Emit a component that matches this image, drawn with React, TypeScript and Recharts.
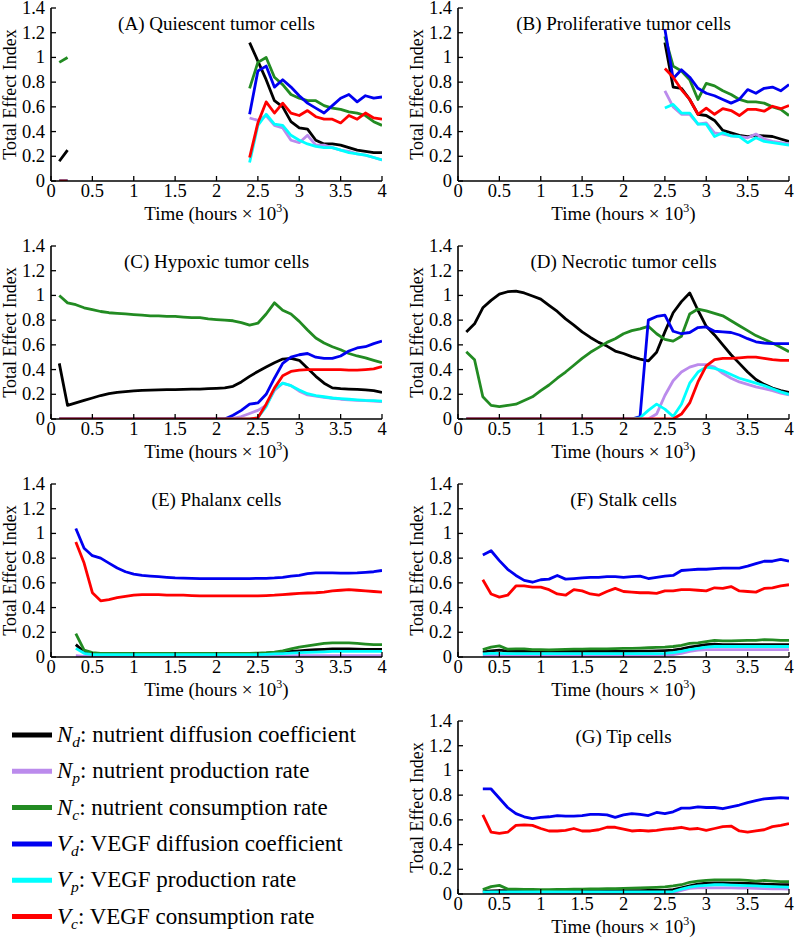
import React from 'react';
import { LineChart, Line, XAxis, YAxis, Label } from 'recharts';

const _ = null;

const TIME = [
  0.1, 0.2, 0.3, 0.4, 0.5, 0.6, 0.7, 0.8, 0.9, 1.0,
  1.1, 1.2, 1.3, 1.4, 1.5, 1.6, 1.7, 1.8, 1.9, 2.0,
  2.1, 2.2, 2.3, 2.4, 2.5, 2.6, 2.7, 2.8, 2.9, 3.0,
  3.1, 3.2, 3.3, 3.4, 3.5, 3.6, 3.7, 3.8, 3.9, 4.0,
];
const X_TICKS = [0, 0.5, 1, 1.5, 2, 2.5, 3, 3.5, 4];
const Y_TICKS = [0, 0.2, 0.4, 0.6, 0.8, 1, 1.2, 1.4];

// (A) Quiescent tumor cells
const A_ND = [0.16, 0.25, _, _, _, _, _, _, _, _, _, _, _, _, _, _, _, _, _, _, _, _, _, 1.12, 0.97, 0.82, 0.65, 0.60, 0.48, 0.43, 0.42, 0.33, 0.30, 0.30, 0.29, 0.27, 0.25, 0.24, 0.23, 0.23];
const A_NP = [0, 0, _, _, _, _, _, _, _, _, _, _, _, _, _, _, _, _, _, _, _, _, _, 0.51, 0.49, 0.53, 0.45, 0.43, 0.33, 0.31, 0.37, 0.29, 0.29, 0.27, 0.25, 0.24, 0.22, 0.21, 0.19, 0.17];
const A_NC = [0.96, 1.0, _, _, _, _, _, _, _, _, _, _, _, _, _, _, _, _, _, _, _, _, _, 0.75, 0.96, 1.0, 0.84, 0.78, 0.70, 0.67, 0.65, 0.65, 0.61, 0.59, 0.58, 0.56, 0.55, 0.53, 0.48, 0.45];
const A_VD = [0, 0, _, _, _, _, _, _, _, _, _, _, _, _, _, _, _, _, _, _, _, _, _, 0.54, 0.89, 0.93, 0.76, 0.82, 0.76, 0.69, 0.63, 0.59, 0.55, 0.61, 0.67, 0.70, 0.64, 0.69, 0.67, 0.68];
const A_VP = [0, 0, _, _, _, _, _, _, _, _, _, _, _, _, _, _, _, _, _, _, _, _, _, 0.15, 0.45, 0.54, 0.46, 0.45, 0.37, 0.33, 0.30, 0.28, 0.27, 0.27, 0.25, 0.23, 0.22, 0.21, 0.19, 0.17];
const A_VC = [0, 0, _, _, _, _, _, _, _, _, _, _, _, _, _, _, _, _, _, _, _, _, _, 0.19, 0.47, 0.64, 0.55, 0.63, 0.55, 0.53, 0.57, 0.52, 0.50, 0.50, 0.47, 0.53, 0.50, 0.55, 0.51, 0.50];

// (B) Proliferative tumor cells
const B_ND = [_, _, _, _, _, _, _, _, _, _, _, _, _, _, _, _, _, _, _, _, _, _, _, _, 1.12, 0.76, 0.75, 0.66, 0.54, 0.53, 0.49, 0.41, 0.39, 0.37, 0.36, 0.37, 0.365, 0.36, 0.34, 0.32];
const B_NP = [_, _, _, _, _, _, _, _, _, _, _, _, _, _, _, _, _, _, _, _, _, _, _, _, 0.73, 0.60, 0.54, 0.54, 0.46, 0.47, 0.39, 0.38, 0.365, 0.36, 0.35, 0.38, 0.34, 0.32, 0.31, 0.30];
const B_NC = [_, _, _, _, _, _, _, _, _, _, _, _, _, _, _, _, _, _, _, _, _, _, _, _, 1.17, 0.93, 0.89, 0.82, 0.66, 0.79, 0.77, 0.73, 0.70, 0.66, 0.64, 0.64, 0.63, 0.60, 0.58, 0.53];
const B_VD = [_, _, _, _, _, _, _, _, _, _, _, _, _, _, _, _, _, _, _, _, _, _, _, _, 1.23, 0.83, 0.90, 0.84, 0.75, 0.71, 0.69, 0.66, 0.63, 0.66, 0.74, 0.71, 0.75, 0.76, 0.73, 0.78];
const B_VP = [_, _, _, _, _, _, _, _, _, _, _, _, _, _, _, _, _, _, _, _, _, _, _, _, 0.59, 0.62, 0.55, 0.55, 0.46, 0.46, 0.36, 0.39, 0.365, 0.36, 0.31, 0.35, 0.32, 0.31, 0.30, 0.29];
const B_VC = [_, _, _, _, _, _, _, _, _, _, _, _, _, _, _, _, _, _, _, _, _, _, _, _, 0.91, 0.84, 0.74, 0.66, 0.54, 0.59, 0.54, 0.585, 0.57, 0.53, 0.58, 0.58, 0.565, 0.605, 0.585, 0.61];

// (C) Hypoxic tumor cells
const C_ND = [0.45, 0.11, 0.13, 0.15, 0.17, 0.19, 0.205, 0.215, 0.222, 0.228, 0.232, 0.234, 0.236, 0.237, 0.238, 0.24, 0.241, 0.242, 0.245, 0.248, 0.252, 0.265, 0.30, 0.345, 0.385, 0.42, 0.455, 0.485, 0.49, 0.475, 0.41, 0.345, 0.29, 0.252, 0.245, 0.242, 0.24, 0.236, 0.23, 0.215];
const C_NP = [0, 0, 0, 0, 0, 0, 0, 0, 0, 0, 0, 0, 0, 0, 0, 0, 0, 0, 0, 0, 0, 0.005, 0.02, 0.045, 0.07, 0.11, 0.23, 0.29, 0.27, 0.225, 0.195, 0.185, 0.175, 0.168, 0.16, 0.155, 0.15, 0.148, 0.145, 0.14];
const C_NC = [1.0, 0.94, 0.925, 0.90, 0.885, 0.87, 0.86, 0.855, 0.85, 0.845, 0.84, 0.835, 0.835, 0.83, 0.83, 0.825, 0.82, 0.82, 0.81, 0.805, 0.80, 0.795, 0.78, 0.76, 0.775, 0.85, 0.94, 0.88, 0.85, 0.79, 0.72, 0.655, 0.615, 0.585, 0.56, 0.53, 0.51, 0.495, 0.475, 0.455];
const C_VD = [0, 0, 0, 0, 0, 0, 0, 0, 0, 0, 0, 0, 0, 0, 0, 0, 0, 0, 0, 0, 0, 0.03, 0.07, 0.12, 0.13, 0.2, 0.33, 0.45, 0.5, 0.52, 0.53, 0.5, 0.49, 0.49, 0.51, 0.55, 0.575, 0.585, 0.61, 0.63];
const C_VP = [0, 0, 0, 0, 0, 0, 0, 0, 0, 0, 0, 0, 0, 0, 0, 0, 0, 0, 0, 0, 0, 0, 0, 0, 0.01, 0.1, 0.24, 0.29, 0.27, 0.235, 0.205, 0.19, 0.18, 0.17, 0.165, 0.16, 0.155, 0.15, 0.148, 0.145];
const C_VC = [0, 0, 0, 0, 0, 0, 0, 0, 0, 0, 0, 0, 0, 0, 0, 0, 0, 0, 0, 0, 0, 0, 0, 0, 0.01, 0.12, 0.25, 0.35, 0.385, 0.395, 0.40, 0.40, 0.40, 0.40, 0.40, 0.395, 0.395, 0.40, 0.405, 0.425];

// (D) Necrotic tumor cells
const D_ND = [0.705, 0.77, 0.90, 0.96, 1.01, 1.03, 1.035, 1.02, 0.995, 0.97, 0.92, 0.87, 0.81, 0.76, 0.705, 0.66, 0.62, 0.59, 0.55, 0.53, 0.505, 0.485, 0.47, 0.54, 0.705, 0.86, 0.95, 1.02, 0.88, 0.75, 0.68, 0.60, 0.52, 0.45, 0.38, 0.32, 0.28, 0.25, 0.23, 0.215];
const D_NP = [0, 0, 0, 0, 0, 0, 0, 0, 0, 0, 0, 0, 0, 0, 0, 0, 0, 0, 0, 0, 0, 0, 0, 0.04, 0.19, 0.31, 0.38, 0.42, 0.44, 0.44, 0.42, 0.37, 0.33, 0.30, 0.28, 0.26, 0.245, 0.23, 0.21, 0.195];
const D_NC = [0.545, 0.48, 0.18, 0.11, 0.10, 0.11, 0.12, 0.15, 0.18, 0.23, 0.275, 0.33, 0.38, 0.435, 0.49, 0.54, 0.58, 0.62, 0.65, 0.69, 0.715, 0.73, 0.75, 0.69, 0.645, 0.63, 0.67, 0.85, 0.89, 0.875, 0.855, 0.835, 0.795, 0.755, 0.715, 0.675, 0.645, 0.615, 0.58, 0.545];
const D_VD = [0, 0, 0, 0, 0, 0, 0, 0, 0, 0, 0, 0, 0, 0, 0, 0, 0, 0, 0, 0, 0, 0.02, 0.80, 0.83, 0.84, 0.71, 0.69, 0.70, 0.74, 0.745, 0.71, 0.705, 0.70, 0.68, 0.65, 0.625, 0.615, 0.61, 0.61, 0.61];
const D_VP = [0, 0, 0, 0, 0, 0, 0, 0, 0, 0, 0, 0, 0, 0, 0, 0, 0, 0, 0, 0, 0, 0.01, 0.07, 0.12, 0.08, 0.02, 0.12, 0.29, 0.38, 0.42, 0.41, 0.39, 0.36, 0.33, 0.31, 0.29, 0.27, 0.245, 0.22, 0.20];
const D_VC = [0, 0, 0, 0, 0, 0, 0, 0, 0, 0, 0, 0, 0, 0, 0, 0, 0, 0, 0, 0, 0, 0, 0, 0, 0, 0, 0.04, 0.13, 0.30, 0.43, 0.48, 0.49, 0.49, 0.495, 0.50, 0.50, 0.49, 0.48, 0.475, 0.475];

// (E) Phalanx cells
const E_ND = [_, _, 0.10, 0.04, 0.025, 0.025, 0.025, 0.025, 0.025, 0.025, 0.025, 0.025, 0.025, 0.025, 0.025, 0.025, 0.025, 0.025, 0.025, 0.025, 0.025, 0.025, 0.025, 0.025, 0.025, 0.027, 0.03, 0.035, 0.045, 0.05, 0.055, 0.06, 0.062, 0.065, 0.065, 0.065, 0.063, 0.062, 0.062, 0.062];
const E_NP = [_, _, 0.01, 0.005, 0.005, 0.005, 0.005, 0.005, 0.005, 0.005, 0.005, 0.005, 0.005, 0.005, 0.005, 0.005, 0.005, 0.005, 0.005, 0.005, 0.005, 0.005, 0.005, 0.005, 0.005, 0.006, 0.007, 0.008, 0.009, 0.01, 0.01, 0.01, 0.01, 0.01, 0.01, 0.01, 0.01, 0.01, 0.01, 0.01];
const E_NC = [_, _, 0.19, 0.055, 0.035, 0.03, 0.03, 0.03, 0.03, 0.03, 0.03, 0.03, 0.03, 0.03, 0.03, 0.03, 0.03, 0.03, 0.03, 0.03, 0.03, 0.03, 0.03, 0.03, 0.032, 0.035, 0.04, 0.05, 0.065, 0.08, 0.09, 0.10, 0.11, 0.115, 0.115, 0.115, 0.11, 0.105, 0.10, 0.10];
const E_VD = [_, _, 1.04, 0.88, 0.82, 0.80, 0.76, 0.72, 0.69, 0.67, 0.66, 0.655, 0.65, 0.645, 0.64, 0.638, 0.636, 0.635, 0.635, 0.634, 0.634, 0.634, 0.635, 0.635, 0.636, 0.637, 0.64, 0.645, 0.655, 0.66, 0.675, 0.68, 0.68, 0.68, 0.678, 0.678, 0.68, 0.685, 0.69, 0.70];
const E_VP = [_, _, 0.07, 0.03, 0.02, 0.02, 0.02, 0.02, 0.02, 0.02, 0.02, 0.02, 0.02, 0.02, 0.02, 0.02, 0.02, 0.02, 0.02, 0.02, 0.02, 0.02, 0.02, 0.02, 0.02, 0.022, 0.025, 0.028, 0.032, 0.035, 0.038, 0.04, 0.042, 0.045, 0.045, 0.045, 0.045, 0.045, 0.045, 0.045];
const E_VC = [_, _, 0.93, 0.76, 0.52, 0.455, 0.465, 0.48, 0.49, 0.50, 0.505, 0.505, 0.505, 0.50, 0.50, 0.50, 0.497, 0.495, 0.495, 0.495, 0.495, 0.495, 0.495, 0.495, 0.495, 0.497, 0.50, 0.505, 0.51, 0.515, 0.518, 0.52, 0.525, 0.535, 0.54, 0.545, 0.54, 0.535, 0.53, 0.525];

// (F) Stalk cells
const F_ND = [_, _, 0.04, 0.05, 0.055, 0.048, 0.046, 0.045, 0.045, 0.045, 0.045, 0.045, 0.045, 0.045, 0.045, 0.045, 0.045, 0.045, 0.045, 0.045, 0.046, 0.047, 0.048, 0.05, 0.052, 0.055, 0.065, 0.08, 0.09, 0.10, 0.105, 0.10, 0.10, 0.10, 0.10, 0.10, 0.10, 0.10, 0.10, 0.10];
const F_NP = [_, _, 0.01, 0.012, 0.012, 0.012, 0.012, 0.012, 0.012, 0.012, 0.012, 0.012, 0.012, 0.012, 0.012, 0.012, 0.012, 0.012, 0.012, 0.012, 0.012, 0.012, 0.013, 0.014, 0.016, 0.02, 0.03, 0.045, 0.055, 0.06, 0.06, 0.06, 0.06, 0.06, 0.06, 0.06, 0.06, 0.06, 0.06, 0.06];
const F_NC = [_, _, 0.06, 0.08, 0.09, 0.063, 0.065, 0.065, 0.06, 0.06, 0.058, 0.06, 0.062, 0.063, 0.063, 0.065, 0.065, 0.066, 0.068, 0.07, 0.07, 0.072, 0.075, 0.078, 0.08, 0.085, 0.095, 0.11, 0.115, 0.125, 0.135, 0.13, 0.13, 0.132, 0.135, 0.135, 0.14, 0.138, 0.135, 0.135];
const F_VD = [_, _, 0.825, 0.86, 0.78, 0.71, 0.66, 0.62, 0.605, 0.625, 0.63, 0.66, 0.63, 0.635, 0.64, 0.645, 0.645, 0.65, 0.65, 0.645, 0.65, 0.655, 0.635, 0.645, 0.655, 0.66, 0.70, 0.705, 0.71, 0.71, 0.715, 0.72, 0.72, 0.72, 0.735, 0.755, 0.775, 0.775, 0.79, 0.775];
const F_VP = [_, _, 0.025, 0.03, 0.03, 0.028, 0.027, 0.027, 0.027, 0.027, 0.027, 0.027, 0.027, 0.027, 0.027, 0.027, 0.027, 0.027, 0.027, 0.027, 0.027, 0.027, 0.027, 0.028, 0.03, 0.035, 0.045, 0.06, 0.07, 0.08, 0.085, 0.085, 0.085, 0.085, 0.085, 0.085, 0.085, 0.085, 0.085, 0.085];
const F_VC = [_, _, 0.625, 0.51, 0.485, 0.50, 0.575, 0.575, 0.565, 0.565, 0.545, 0.51, 0.50, 0.545, 0.535, 0.51, 0.50, 0.53, 0.555, 0.53, 0.525, 0.52, 0.52, 0.515, 0.535, 0.535, 0.545, 0.545, 0.54, 0.535, 0.56, 0.555, 0.57, 0.535, 0.53, 0.525, 0.555, 0.56, 0.575, 0.585];

// (G) Tip cells
const G_ND = [_, _, 0.02, 0.025, 0.027, 0.027, 0.027, 0.027, 0.027, 0.027, 0.027, 0.027, 0.027, 0.027, 0.027, 0.027, 0.027, 0.027, 0.027, 0.027, 0.028, 0.028, 0.029, 0.03, 0.03, 0.035, 0.05, 0.065, 0.08, 0.088, 0.09, 0.09, 0.088, 0.087, 0.085, 0.083, 0.08, 0.078, 0.076, 0.075];
const G_NP = [_, _, 0.005, 0.005, 0.005, 0.005, 0.005, 0.005, 0.005, 0.005, 0.005, 0.005, 0.005, 0.005, 0.005, 0.005, 0.005, 0.005, 0.005, 0.005, 0.005, 0.005, 0.005, 0.005, 0.006, 0.01, 0.03, 0.045, 0.05, 0.05, 0.05, 0.05, 0.05, 0.048, 0.047, 0.045, 0.044, 0.042, 0.041, 0.04];
const G_NC = [_, _, 0.035, 0.06, 0.07, 0.04, 0.04, 0.038, 0.037, 0.035, 0.036, 0.037, 0.038, 0.039, 0.04, 0.041, 0.042, 0.043, 0.044, 0.045, 0.047, 0.049, 0.051, 0.054, 0.058, 0.065, 0.075, 0.095, 0.105, 0.11, 0.115, 0.115, 0.115, 0.115, 0.11, 0.105, 0.11, 0.105, 0.10, 0.10];
const G_VD = [_, _, 0.85, 0.85, 0.775, 0.70, 0.65, 0.625, 0.61, 0.62, 0.625, 0.635, 0.63, 0.63, 0.635, 0.645, 0.645, 0.64, 0.62, 0.64, 0.65, 0.645, 0.635, 0.66, 0.65, 0.665, 0.695, 0.695, 0.705, 0.70, 0.70, 0.69, 0.705, 0.72, 0.74, 0.755, 0.77, 0.775, 0.78, 0.775];
const G_VP = [_, _, 0.015, 0.018, 0.018, 0.017, 0.017, 0.017, 0.017, 0.017, 0.017, 0.017, 0.017, 0.017, 0.017, 0.017, 0.017, 0.017, 0.017, 0.017, 0.017, 0.017, 0.017, 0.017, 0.018, 0.02, 0.04, 0.055, 0.065, 0.07, 0.075, 0.075, 0.072, 0.07, 0.068, 0.065, 0.062, 0.06, 0.057, 0.055];
const G_VC = [_, _, 0.64, 0.50, 0.49, 0.50, 0.555, 0.56, 0.555, 0.53, 0.51, 0.51, 0.515, 0.53, 0.51, 0.51, 0.52, 0.54, 0.54, 0.525, 0.51, 0.515, 0.51, 0.515, 0.525, 0.53, 0.54, 0.525, 0.53, 0.515, 0.53, 0.545, 0.55, 0.51, 0.50, 0.51, 0.52, 0.545, 0.555, 0.57];

const KEYS = ['Nd', 'Np', 'Nc', 'Vd', 'Vp', 'Vc'];
const LEG_SYM = ['N', 'N', 'N', 'V', 'V', 'V'];
const LEG_SUB = ['d', 'p', 'c', 'd', 'p', 'c'];
const LEG_TEXT = [
  ': nutrient diffusion coefficient',
  ': nutrient production rate',
  ': nutrient consumption rate',
  ': VEGF diffusion coefficient',
  ': VEGF production rate',
  ': VEGF consumption rate',
];

const COLORS: Record<string, string> = {
  Nd: '#000000',
  Np: '#bb8bec',
  Nc: '#228b22',
  Vd: '#0000f0',
  Vp: '#00ffff',
  Vc: '#ff0000',
};

const FONT = '"Liberation Serif", "Times New Roman", Times, serif';
const ML = 52;
const MT = 10;
const MR = 6;
const XH = 48;
const PW = 331;
const PH = 173;
const CW = ML + PW + MR;
const CH = MT + PH + XH;
const AXIS_LINE = { stroke: '#000', strokeWidth: 1.6 };
const TICK_LEN = 5;

const fmt = (v: number) => String(v);

const BottomTick = (p: any) => (
  <g>
    <line x1={p.x} x2={p.x} y1={p.y} y2={p.y - TICK_LEN} stroke="#000" strokeWidth={1.3} />
    <text x={p.x} y={p.y + 16} textAnchor="middle" fontSize={18.5} fontFamily={FONT} fill="#000">
      {fmt(p.payload.value)}
    </text>
  </g>
);
const TopTick = (p: any) => (
  <line x1={p.x} x2={p.x} y1={p.y} y2={p.y + TICK_LEN} stroke="#000" strokeWidth={1.3} />
);
const LeftTick = (p: any) => (
  <g>
    <line x1={p.x} x2={p.x + TICK_LEN} y1={p.y} y2={p.y} stroke="#000" strokeWidth={1.3} />
    <text x={p.x - 6} y={p.y + 6} textAnchor="end" fontSize={18.5} fontFamily={FONT} fill="#000">
      {fmt(p.payload.value)}
    </text>
  </g>
);
const RightTick = (p: any) => (
  <line x1={p.x} x2={p.x - TICK_LEN} y1={p.y} y2={p.y} stroke="#000" strokeWidth={1.3} />
);

type PanelProps = { title: string; series: (number | null)[][]; plotLeft: number; plotTop: number };

function Panel({ title, series, plotLeft, plotTop }: PanelProps) {
  const data = TIME.map((t, i) => {
    const row: Record<string, number | null> = { t };
    KEYS.forEach((k, j) => {
      row[k] = series[j][i];
    });
    return row;
  });
  const cx = ML + PW / 2;
  const cy = MT + PH / 2;
  return (
    <div style={{ position: 'absolute', left: plotLeft - ML, top: plotTop - MT, width: CW, height: CH }}>
      <LineChart width={CW} height={CH} data={data} margin={{ top: MT, right: MR, bottom: 0, left: 0 }}>
        <XAxis
          xAxisId="b"
          dataKey="t"
          type="number"
          domain={[0, 4]}
          ticks={X_TICKS}
          interval={0}
          height={XH}
          tickSize={0}
          tickMargin={0}
          tickLine={false}
          axisLine={AXIS_LINE}
          tick={BottomTick}
          allowDataOverflow
        >
          <Label
            content={() => (
              <text x={cx} y={MT + PH + 39} textAnchor="middle" fontSize={19} fontFamily={FONT} fill="#000">
                Time (hours × 10
                <tspan fontSize={12} dy={-8}>3</tspan>
                <tspan dy={8}>)</tspan>
              </text>
            )}
          />
        </XAxis>
        <XAxis
          xAxisId="t"
          dataKey="t"
          type="number"
          orientation="top"
          domain={[0, 4]}
          ticks={X_TICKS}
          interval={0}
          height={0}
          tickSize={0}
          tickMargin={0}
          tickLine={false}
          axisLine={AXIS_LINE}
          tick={TopTick}
          allowDataOverflow
        />
        <YAxis
          yAxisId="l"
          type="number"
          domain={[0, 1.4]}
          ticks={Y_TICKS}
          interval={0}
          width={ML}
          tickSize={0}
          tickMargin={0}
          tickLine={false}
          axisLine={AXIS_LINE}
          tick={LeftTick}
          allowDataOverflow
        >
          <Label
            content={() => (
              <g>
                <text
                  x={ML - 35}
                  y={cy}
                  transform={`rotate(-90, ${ML - 35}, ${cy})`}
                  textAnchor="middle"
                  fontSize={18}
                  fontFamily={FONT}
                  fill="#000"
                >
                  Total Effect Index
                </text>
                <text x={cx} y={MT + 22} textAnchor="middle" fontSize={19} fontFamily={FONT} fill="#000">
                  {title}
                </text>
              </g>
            )}
          />
        </YAxis>
        <YAxis
          yAxisId="r"
          orientation="right"
          type="number"
          domain={[0, 1.4]}
          ticks={Y_TICKS}
          interval={0}
          width={0}
          tickSize={0}
          tickMargin={0}
          tickLine={false}
          axisLine={AXIS_LINE}
          tick={RightTick}
          allowDataOverflow
        />
        {KEYS.map((k) => (
          <Line
            key={k}
            xAxisId="b"
            yAxisId="l"
            type="linear"
            dataKey={k}
            stroke={COLORS[k]}
            strokeWidth={2.8}
            strokeLinejoin="round"
            dot={false}
            activeDot={false}
            isAnimationActive={false}
          />
        ))}
      </LineChart>
    </div>
  );
}

function LegendBlock() {
  return (
    <svg width={400} height={240} style={{ position: 'absolute', left: 0, top: 700 }}>
      {KEYS.map((k, i) => {
        const y = 35 + i * 36.3;
        return (
          <g key={k}>
            <line x1={12} x2={52} y1={y} y2={y} stroke={COLORS[k]} strokeWidth={5} />
            <text x={57} y={y + 7} fontSize={23} fontFamily={FONT} fill="#000">
              <tspan fontStyle="italic">{LEG_SYM[i]}</tspan>
              <tspan fontStyle="italic" fontSize={15.5} dy={5}>{LEG_SUB[i]}</tspan>
              <tspan dy={-5}>{LEG_TEXT[i]}</tspan>
            </text>
          </g>
        );
      })}
    </svg>
  );
}

const LEFT_X = 51;
const RIGHT_X = 458;
const ROW_Y = [8, 246, 484, 721];

export default function App() {
  return (
    <div style={{ position: 'absolute', left: 0, top: 0, width: 798, height: 940, background: '#fff', fontFamily: FONT }}>
      <Panel title="(A) Quiescent tumor cells" series={[A_ND, A_NP, A_NC, A_VD, A_VP, A_VC]} plotLeft={LEFT_X} plotTop={ROW_Y[0]} />
      <Panel title="(B) Proliferative tumor cells" series={[B_ND, B_NP, B_NC, B_VD, B_VP, B_VC]} plotLeft={RIGHT_X} plotTop={ROW_Y[0]} />
      <Panel title="(C) Hypoxic tumor cells" series={[C_ND, C_NP, C_NC, C_VD, C_VP, C_VC]} plotLeft={LEFT_X} plotTop={ROW_Y[1]} />
      <Panel title="(D) Necrotic tumor cells" series={[D_ND, D_NP, D_NC, D_VD, D_VP, D_VC]} plotLeft={RIGHT_X} plotTop={ROW_Y[1]} />
      <Panel title="(E) Phalanx cells" series={[E_ND, E_NP, E_NC, E_VD, E_VP, E_VC]} plotLeft={LEFT_X} plotTop={ROW_Y[2]} />
      <Panel title="(F) Stalk cells" series={[F_ND, F_NP, F_NC, F_VD, F_VP, F_VC]} plotLeft={RIGHT_X} plotTop={ROW_Y[2]} />
      <Panel title="(G) Tip cells" series={[G_ND, G_NP, G_NC, G_VD, G_VP, G_VC]} plotLeft={RIGHT_X} plotTop={ROW_Y[3]} />
      <LegendBlock />
    </div>
  );
}
